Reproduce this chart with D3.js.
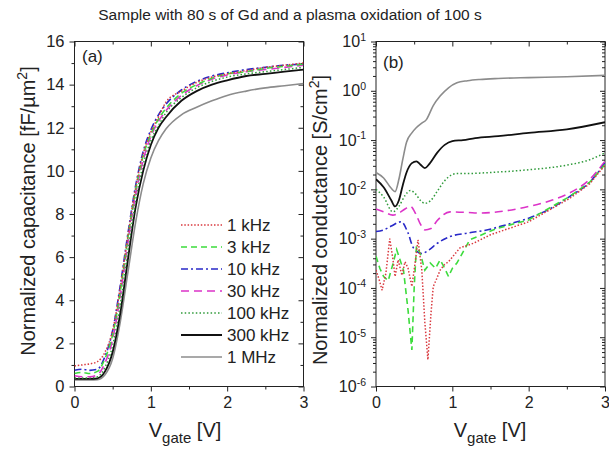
<!DOCTYPE html>
<html>
<head>
<meta charset="utf-8">
<script src="https://cdn.jsdelivr.net/npm/d3@7"></script>
<style>
body{margin:0;background:#fff;}
svg{font-family:"Liberation Sans",Arial,sans-serif;}
</style>
</head>
<body>
<svg id="chart" width="609" height="455"></svg>
<script>
// series names / styles order
var freqs=["1 kHz","3 kHz","10 kHz","30 kHz","100 kHz","300 kHz","1 MHz"];
var colors=["#d9393f","#3ddc3d","#2929c8","#dc33c8","#2f9a3a","#111111","#8c8c8c"];
var dashes=["1.5,1.8","6,4","7,3,2,3","8,5","1.5,2.2",null,null];
var widths=[1.5,1.6,1.6,1.6,1.5,1.8,1.6];

// panel (a) capacitance [fF/um2] vs Vgate
var vA=[0,0.1,0.2,0.3,0.4,0.5,0.6,0.7,0.8,0.9,1.0,1.1,1.2,1.4,1.6,1.8,2.0,2.25,2.5,2.75,3.0];
var c1k=[0.95,1.0,1.05,1.15,1.6,2.6,4.6,7.0,9.2,10.8,11.8,12.5,13.2,13.7,14.1,14.35,14.5,14.65,14.8,14.9,15.0];
var c3k=[0.6,0.65,0.6,0.7,1.3,2.4,4.4,6.9,9.1,10.7,11.7,12.4,12.9,13.6,14.0,14.3,14.5,14.6,14.75,14.85,14.95];
var c10k=[0.75,0.8,0.75,0.8,1.4,2.6,4.7,7.1,9.3,10.9,11.9,12.6,13.1,13.75,14.15,14.4,14.55,14.7,14.8,14.9,14.95];
var c30k=[0.5,0.45,0.45,0.55,1.1,2.2,4.2,6.7,8.9,10.5,11.6,12.3,12.8,13.5,13.95,14.25,14.45,14.6,14.7,14.8,14.9];
var c100k=[0.4,0.4,0.4,0.45,0.9,1.9,3.8,6.3,8.6,10.3,11.4,12.1,12.7,13.4,13.85,14.15,14.35,14.5,14.6,14.7,14.8];
var c300k=[0.35,0.35,0.35,0.38,0.7,1.6,3.4,5.9,8.3,10.0,11.2,12.0,12.5,13.25,13.7,14.0,14.2,14.4,14.5,14.6,14.7];
var c1M=[0.3,0.3,0.3,0.32,0.55,1.3,3.0,5.3,7.6,9.4,10.6,11.4,11.95,12.6,12.95,13.25,13.5,13.7,13.85,13.95,14.05];
var capSeries=[c1k,c3k,c10k,c30k,c100k,c300k,c1M];

// panel (b) conductance [S/cm2] vs Vgate
var v1k=[0,0.04,0.08,0.13,0.18,0.22,0.25,0.29,0.34,0.38,0.42,0.47,0.51,0.55,0.6,0.64,0.68,0.72,0.75,0.8,0.84,0.9,0.95,1.1,1.28,1.5,2.0,2.54,2.8,3.0];
var g1k=[2.3e-4,1.5e-4,9e-5,2e-4,1e-3,4e-4,1.7e-4,3.7e-4,1.8e-4,3.4e-4,2.5e-4,1.07e-4,3e-4,9.5e-4,2.3e-4,2e-5,3.5e-6,3e-5,1.07e-4,1.6e-4,2.3e-4,3e-4,3.4e-4,6.5e-4,8.1e-4,1.2e-3,2.2e-3,6.6e-3,1.3e-2,3.1e-2];
var v3k=[0,0.05,0.1,0.16,0.22,0.27,0.32,0.36,0.42,0.47,0.5,0.53,0.58,0.64,0.71,0.78,0.84,0.9,0.95,1.0,1.06,1.23,1.58,2.0,2.54,2.8,3.0];
var g3k=[4.4e-4,2.5e-4,1.7e-4,1.4e-4,3e-4,6e-4,3.5e-4,2.3e-4,3.5e-5,5.5e-6,1e-4,7e-4,5e-4,2.3e-4,3.2e-4,2.5e-4,3.7e-4,2.5e-4,1.7e-4,2.5e-4,3.2e-4,9.5e-4,1.6e-3,2.4e-3,7.2e-3,1.4e-2,3.2e-2];
var v10k=[0,0.1,0.2,0.33,0.42,0.49,0.6,0.7,0.8,0.97,1.2,1.45,1.7,2.0,2.3,2.54,2.8,3.0];
var g10k=[1.4e-3,1.5e-3,1.8e-3,2.2e-3,1.3e-3,6.5e-4,5e-4,6e-4,8e-4,1.1e-3,1.3e-3,1.5e-3,1.9e-3,2.6e-3,4.2e-3,7.2e-3,1.4e-2,3.4e-2];
var v30k=[0,0.1,0.22,0.3,0.38,0.45,0.52,0.58,0.64,0.72,0.8,0.97,1.2,1.36,1.6,2.0,2.3,2.54,2.8,3.0];
var g30k=[4e-3,3.5e-3,3e-3,3.3e-3,4e-3,4.5e-3,3.2e-3,2e-3,1.5e-3,1.6e-3,2.3e-3,3.5e-3,3.4e-3,3.3e-3,3.5e-3,4.5e-3,6e-3,8.5e-3,1.6e-2,3.7e-2];
var v100k=[0,0.1,0.22,0.3,0.38,0.45,0.52,0.58,0.64,0.72,0.8,0.9,1.0,1.06,1.2,1.5,2.0,2.5,2.8,3.0];
var g100k=[1.0e-2,7e-3,3.5e-3,4.5e-3,7.5e-3,9.5e-3,8e-3,6e-3,5.2e-3,6e-3,9e-3,1.5e-2,2e-2,2.1e-2,2.1e-2,2.2e-2,2.5e-2,3.1e-2,4e-2,5.5e-2];
var v300k=[0,0.1,0.2,0.25,0.3,0.35,0.4,0.47,0.53,0.58,0.64,0.7,0.8,0.9,1.0,1.14,1.3,1.6,2.0,2.5,3.0];
var g300k=[1.6e-2,1.1e-2,6e-3,4.5e-3,6e-3,1.2e-2,2.2e-2,3.4e-2,3.7e-2,3.2e-2,2.7e-2,3.3e-2,5.5e-2,8e-2,9.5e-2,0.1,0.11,0.12,0.14,0.165,0.23];
var v1M=[0,0.1,0.2,0.25,0.3,0.35,0.4,0.47,0.53,0.6,0.66,0.75,0.84,0.95,1.06,1.2,1.36,1.6,2.0,2.5,3.0];
var g1M=[2.2e-2,1.7e-2,1.05e-2,9e-3,1.6e-2,4e-2,0.09,0.14,0.18,0.22,0.26,0.5,0.78,1.15,1.45,1.6,1.7,1.78,1.85,1.92,2.05];
var condV=[v1k,v3k,v10k,v30k,v100k,v300k,v1M];
var condSeries=[g1k,g3k,g10k,g30k,g100k,g300k,g1M];
var noisy=[true,true,false,false,false,false,false];

var xTicks=[0,1,2,3];
var xMinor=[0.5,1.5,2.5];
var capTicks=[0,2,4,6,8,10,12,14,16];
var capMinor=[1,3,5,7,9,11,13,15];
var logExps=[1,0,-1,-2,-3,-4,-5,-6];

var svg=d3.select("#chart");
var top0=41.5,bot0=386.5;
var A={x0:74.5,x1:303.5},B={x0:376,x1:605};

var xa=d3.scaleLinear().domain([0,3]).range([A.x0,A.x1]);
var ya=d3.scaleLinear().domain([0,16]).range([bot0,top0]);
var xb=d3.scaleLinear().domain([0,3]).range([B.x0,B.x1]);
var yb=d3.scaleLog().domain([1e-6,10]).range([bot0,top0]);

var logMinor=[];
for(var e=-6;e<1;e++){for(var m=2;m<10;m++){logMinor.push(m*Math.pow(10,e));}}

// title
svg.append("text").attr("x",290).attr("y",20).attr("text-anchor","middle")
	.style("font-size","15.5px").attr("fill","#222")
	.text("Sample with 80 s of Gd and a plasma oxidation of 100 s");

function noDomain(g){g.select(".domain").remove();}

function drawFrame(xs,ys,yMaj,yMin,isLog){
	var x0=xs.range()[0],x1=xs.range()[1];
	//bottom
	svg.append("g").attr("transform","translate(0,"+bot0+")")
		.call(d3.axisBottom(xs).tickValues(xTicks).tickSize(5).tickPadding(5).tickFormat(d3.format("d")))
		.call(noDomain)
		.call(function(g){g.selectAll("text").style("font-size","16px").attr("fill","#222").attr("font-family",null);});
	svg.append("g").attr("transform","translate(0,"+bot0+")")
		.call(d3.axisBottom(xs).tickValues(xMinor).tickSize(3).tickFormat(""))
		.call(noDomain);
	//top (inward)
	svg.append("g").attr("transform","translate(0,"+top0+")")
		.call(d3.axisBottom(xs).tickValues(xTicks).tickSize(5).tickFormat(""))
		.call(noDomain);
	svg.append("g").attr("transform","translate(0,"+top0+")")
		.call(d3.axisBottom(xs).tickValues(xMinor).tickSize(3).tickFormat(""))
		.call(noDomain);
	//left
	var left=svg.append("g").attr("transform","translate("+x0+",0)")
		.call(d3.axisLeft(ys).tickValues(yMaj).tickSize(5).tickPadding(5).tickFormat(isLog?"":d3.format("d")))
		.call(noDomain);
	left.selectAll("text").style("font-size","16.5px").attr("fill","#222").attr("font-family",null);
	if(isLog){
		left.selectAll(".tick").append("text")
			.attr("x",-10).attr("dy","0.32em").attr("text-anchor","end")
			.attr("fill","#222").style("font-size","16px")
			.each(function(d){
				var t=d3.select(this);
				t.append("tspan").text("10");
				t.append("tspan").attr("dy","-0.6em").style("font-size","10.5px").text(Math.round(Math.log10(d)));
			});
	}
	svg.append("g").attr("transform","translate("+x0+",0)")
		.call(d3.axisLeft(ys).tickValues(yMin).tickSize(3).tickFormat(""))
		.call(noDomain);
	//right (inward)
	svg.append("g").attr("transform","translate("+x1+",0)")
		.call(d3.axisLeft(ys).tickValues(yMaj).tickSize(5).tickFormat(""))
		.call(noDomain);
	svg.append("g").attr("transform","translate("+x1+",0)")
		.call(d3.axisLeft(ys).tickValues(yMin).tickSize(3).tickFormat(""))
		.call(noDomain);
	svg.append("rect").attr("x",x0).attr("y",top0).attr("width",x1-x0).attr("height",bot0-top0)
		.attr("fill","none").attr("stroke","#222").attr("stroke-width",1);
}

drawFrame(xa,ya,capTicks,capMinor,false);
drawFrame(xb,yb,logExps.map(function(e){return Math.pow(10,e);}),logMinor,true);
svg.selectAll(".tick line").attr("stroke","#222");

// clip areas
svg.append("clipPath").attr("id","clipA").append("rect")
	.attr("x",A.x0).attr("y",top0).attr("width",A.x1-A.x0).attr("height",bot0-top0);
svg.append("clipPath").attr("id","clipB").append("rect")
	.attr("x",B.x0).attr("y",top0).attr("width",B.x1-B.x0).attr("height",bot0-top0);

// curves (a)
var lineA=d3.line().x(function(d){return xa(d[0]);}).y(function(d){return ya(d[1]);}).curve(d3.curveMonotoneX);
var gA=svg.append("g").attr("clip-path","url(#clipA)");
for(var i=capSeries.length-1;i>=0;i--){
	var pts=vA.map(function(v,j){return [v,capSeries[i][j]];});
	gA.append("path").datum(pts).attr("d",lineA)
		.attr("fill","none").attr("stroke",colors[i]).attr("stroke-width",widths[i])
		.attr("stroke-dasharray",dashes[i]);
}

// curves (b)
var gB=svg.append("g").attr("clip-path","url(#clipB)");
for(var k=condSeries.length-1;k>=0;k--){
	var lineB=d3.line().x(function(d){return xb(d[0]);}).y(function(d){return yb(d[1]);})
		.curve(noisy[k]?d3.curveLinear:d3.curveMonotoneX);
	var ptsB=condV[k].map(function(v,j){return [v,condSeries[k][j]];});
	gB.append("path").datum(ptsB).attr("d",lineB)
		.attr("fill","none").attr("stroke",colors[k]).attr("stroke-width",widths[k])
		.attr("stroke-dasharray",dashes[k]);
}

// panel labels
svg.append("text").attr("x",82).attr("y",62).style("font-size","17px").attr("fill","#222").text("(a)");
svg.append("text").attr("x",383).attr("y",68).style("font-size","17px").attr("fill","#222").text("(b)");

// legend
var leg=svg.append("g");
freqs.forEach(function(f,i){
	var y=225+i*22;
	leg.append("line").attr("x1",181).attr("x2",222).attr("y1",y).attr("y2",y)
		.attr("stroke",colors[i]).attr("stroke-width",widths[i]).attr("stroke-dasharray",dashes[i]);
	leg.append("text").attr("x",227).attr("y",y).attr("dy","0.35em")
		.style("font-size","17px").attr("fill","#222").text(f);
});

// axis titles
function xTitle(cx){
	var t=svg.append("text").attr("x",cx).attr("y",437).attr("text-anchor","middle")
		.style("font-size","20px").attr("fill","#222");
	t.append("tspan").text("V");
	t.append("tspan").attr("dy","6").style("font-size","15px").text("gate");
	t.append("tspan").attr("dy","-6").text(" [V]");
}
xTitle(185);
xTitle(490);

function yTitle(cx,cy,main,unit){
	var t=svg.append("text").attr("transform","translate("+cx+","+cy+") rotate(-90)")
		.attr("text-anchor","middle").style("font-size","20px").attr("fill","#222");
	t.append("tspan").text(main+" ["+unit);
	t.append("tspan").attr("dy","-8").style("font-size","14px").text("2");
	t.append("tspan").attr("dy","8").text("]");
}
yTitle(35,211,"Normalized capacitance","fF/\u00b5m");
yTitle(327,220,"Normalized conductance","S/cm");
</script>
</body>
</html>
